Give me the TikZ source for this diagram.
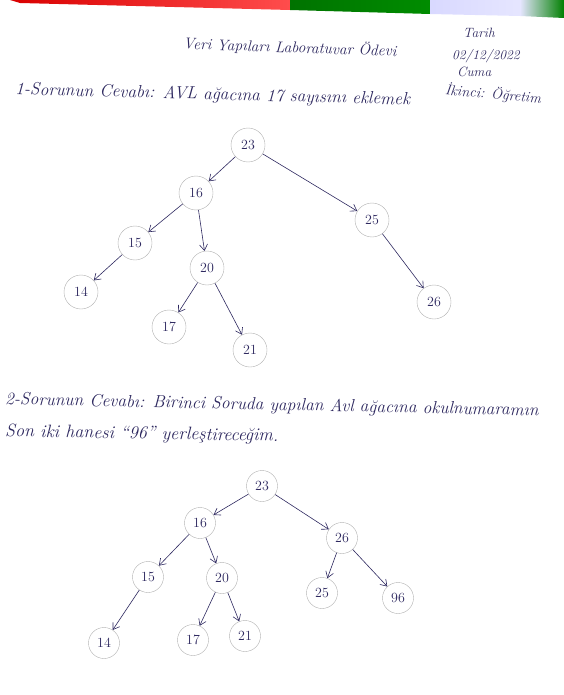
\documentclass[tikz,border=0pt]{standalone}
\usepackage{fontspec}
\usepackage{tikz}
\usetikzlibrary{arrows.meta}
\definecolor{ink}{RGB}{45,40,95}
\definecolor{ring}{RGB}{175,175,175}

\begin{document}
\begin{tikzpicture}[x=1pt,y=-1pt,
  key/.style={circle,draw=ring,thin,minimum size=34pt,inner sep=0pt,text=ink,font=\fontsize{14}{14}\selectfont},
  keysmall/.style={key,minimum size=31pt},
  edge/.style={draw=ink,semithick,-{Straight Barb[length=6pt,width=8pt]}},
  hand/.style={text=ink,anchor=west,inner sep=0pt,font=\itshape\fontsize{13.5}{16}\selectfont},
  handbig/.style={hand,font=\itshape\fontsize{17.5}{20}\selectfont}]
\useasboundingbox (0,0) rectangle (564,695);
% paper edge at the top
\shade[left color=red!85!black,right color=red!70] (10,0) -- (290,0) -- (290,10) -- (20,3) -- cycle;
\shade[left color=green!45!black,right color=green!55!black] (290,0) -- (430,0) -- (430,14) -- (290,10) -- cycle;
\shade[left color=blue!15,right color=blue!10] (430,0) -- (520,0) -- (520,16) -- (430,14) -- cycle;
\shade[left color=blue!10,right color=green!50!black] (520,0) -- (564,0) -- (564,18) -- (520,16) -- cycle;
% heading
\node[hand,rotate=-2,font=\itshape\fontsize{15.5}{18}\selectfont] (title) at (183,44) {Veri Yapıları Laboratuvar Ödevi};
\node[hand] (tarih) at (463,33) {Tarih};
\node[hand] (date) at (452,56) {02/12/2022};
\node[hand] (gun) at (457,72) {Cuma};
\node[hand,rotate=-5,font=\itshape\fontsize{14.5}{16}\selectfont] (ogretim) at (445,90) {İkinci: Öğretim};
\node[handbig,rotate=-1.5] (q1) at (15,90) {1-Sorunun Cevabı: AVL ağacına 17 sayısını eklemek};
% first tree
\node[key] (a23) at (248,145) {23};
\node[key] (a16) at (196,193) {16};
\node[key] (a25) at (372,220) {25};
\node[key] (a15) at (135,243) {15};
\node[key] (a20) at (207,268) {20};
\node[key] (a14) at (81,292) {14};
\node[key] (a26) at (434,302) {26};
\node[key] (a17) at (169,327) {17};
\node[key] (a21) at (250,350) {21};
\draw[edge] (a23) -- (a16);
\draw[edge] (a23) -- (a25);
\draw[edge] (a16) -- (a15);
\draw[edge] (a16) -- (a20);
\draw[edge] (a15) -- (a14);
\draw[edge] (a20) -- (a17);
\draw[edge] (a20) -- (a21);
\draw[edge] (a25) -- (a26);
% second question
\node[handbig,rotate=-1.2] (q2) at (5,400) {2-Sorunun Cevabı: Birinci Soruda yapılan Avl ağacına okulnumaramın};
\node[handbig,rotate=-1,font=\itshape\fontsize{18}{20}\selectfont] (q2b) at (5,432) {Son iki hanesi ``96'' yerleştireceğim.};
% second tree
\node[keysmall] (b23) at (262,486) {23};
\node[keysmall] (b16) at (200,523) {16};
\node[keysmall] (b26) at (342,538) {26};
\node[keysmall] (b15) at (148,577) {15};
\node[keysmall] (b20) at (222,578) {20};
\node[keysmall] (b25) at (322,593) {25};
\node[keysmall] (b96) at (398,598) {96};
\node[keysmall] (b14) at (104,643) {14};
\node[keysmall] (b17) at (193,640) {17};
\node[keysmall] (b21) at (245,636) {21};
\draw[edge] (b23) -- (b16);
\draw[edge] (b23) -- (b26);
\draw[edge] (b16) -- (b15);
\draw[edge] (b16) -- (b20);
\draw[edge] (b26) -- (b25);
\draw[edge] (b26) -- (b96);
\draw[edge] (b15) -- (b14);
\draw[edge] (b20) -- (b17);
\draw[edge] (b20) -- (b21);
\end{tikzpicture}
\end{document}
